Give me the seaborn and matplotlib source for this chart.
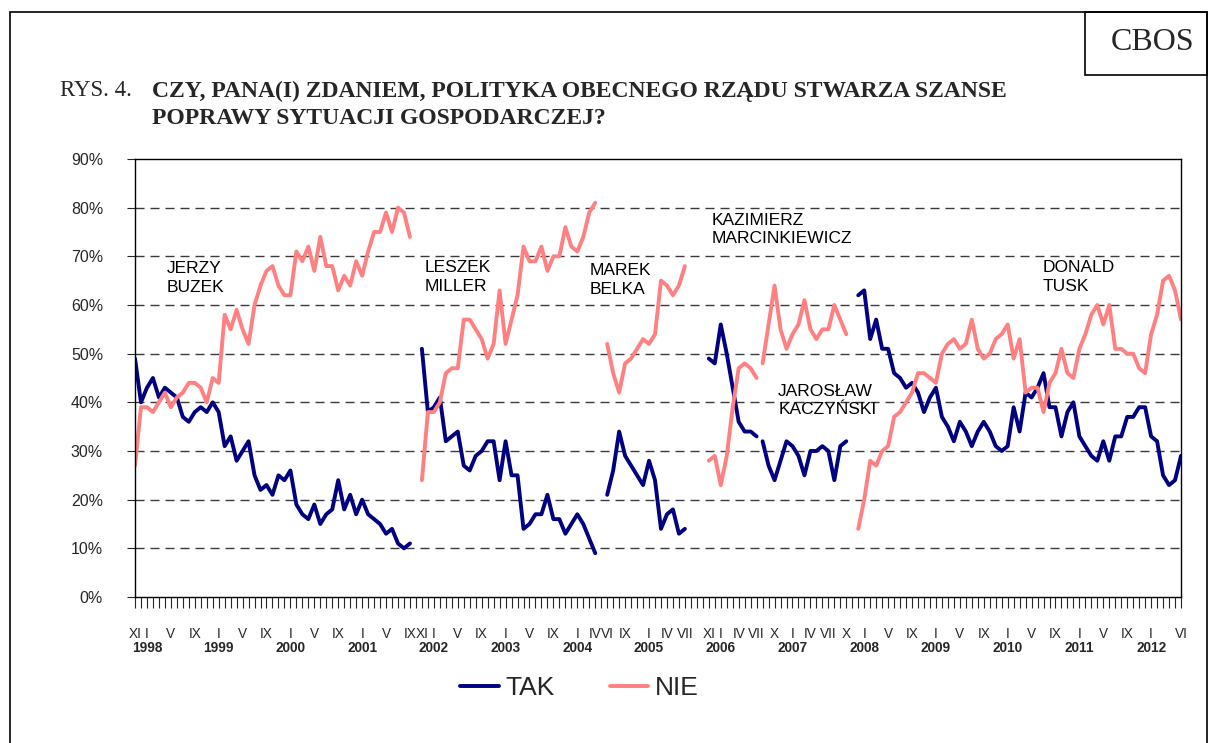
"""
CBOS rys. 4 - ocena polityki rządu (TAK / NIE), XI 1997 - VI 2012
"""
import pandas as pd
import matplotlib
matplotlib.use("Agg")
import matplotlib.pyplot as plt
import matplotlib.transforms as mtransforms
from matplotlib.patches import Rectangle
import seaborn as sns

# miesiące: indeks 0 = XI 1997
ROMAN = ["I", "II", "III", "IV", "V", "VI", "VII", "VIII", "IX", "X", "XI", "XII"]
FIRST_YEAR, FIRST_MONTH = 1997, 11
LAST_YEAR, LAST_MONTH = 2012, 6

# podpisy osi X (tylko wybrane miesiące)
LABELED_MONTHS = {
    1997: ["XI"],
    1998: ["I", "V", "IX"],
    1999: ["I", "V", "IX"],
    2000: ["I", "V", "IX"],
    2001: ["I", "V", "IX", "XI"],
    2002: ["I", "V", "IX"],
    2003: ["I", "V", "IX"],
    2004: ["I", "IV", "VI", "IX"],
    2005: ["I", "IV", "VII", "XI"],
    2006: ["I", "IV", "VII", "X"],
    2007: ["I", "IV", "VII", "X"],
    2008: ["I", "V", "IX"],
    2009: ["I", "V", "IX"],
    2010: ["I", "V", "IX"],
    2011: ["I", "V", "IX"],
    2012: ["I", "VI"],
}

# rządy: początek serii (rok, miesiąc)
GOV_START = {
    "Buzek": (1997, 11),
    "Miller": (2001, 11),
    "Belka": (2004, 6),
    "Marcinkiewicz": (2005, 11),
    "Kaczyński": (2006, 8),
    "Tusk": (2007, 12),
}

TAK_BUZEK = [49, 40, 43, 45, 41, 43, 42, 41, 37, 36, 38, 39, 38, 40, 38, 31,
             33, 28, 30, 32, 25, 22, 23, 21, 25, 24, 26, 19, 17, 16, 19, 15,
             17, 18, 24, 18, 21, 17, 20, 17, 16, 15, 13, 14, 11, 10, 11]
NIE_BUZEK = [27, 39, 39, 38, 40, 42, 39, 41, 42, 44, 44, 43, 40, 45, 44, 58,
             55, 59, 55, 52, 60, 64, 67, 68, 64, 62, 62, 71, 69, 72, 67, 74,
             68, 68, 63, 66, 64, 69, 66, 71, 75, 75, 79, 75, 80, 79, 74]

TAK_MILLER = [51, 38, 39, 41, 32, 33, 34, 27, 26, 29, 30, 32, 32, 24, 32, 25,
              25, 14, 15, 17, 17, 21, 16, 16, 13, 15, 17, 15, 12, 9]
NIE_MILLER = [24, 38, 38, 40, 46, 47, 47, 57, 57, 55, 53, 49, 52, 63, 52, 57,
              62, 72, 69, 69, 72, 67, 70, 70, 76, 72, 71, 74, 79, 81]

TAK_BELKA = [21, 26, 34, 29, 27, 25, 23, 28, 24, 14, 17, 18, 13, 14]
NIE_BELKA = [52, 46, 42, 48, 49, 51, 53, 52, 54, 65, 64, 62, 64, 68]

TAK_MARCINKIEWICZ = [49, 48, 56, 50, 43, 36, 34, 34, 33]
NIE_MARCINKIEWICZ = [28, 29, 23, 29, 39, 47, 48, 47, 45]

TAK_KACZYNSKI = [32, 27, 24, 28, 32, 31, 29, 25, 30, 30, 31, 30, 24, 31, 32]
NIE_KACZYNSKI = [48, 56, 64, 55, 51, 54, 56, 61, 55, 53, 55, 55, 60, 57, 54]

TAK_TUSK = [62, 63, 53, 57, 51, 51, 46, 45, 43, 44, 42, 38, 41, 43, 37, 35,
            32, 36, 34, 31, 34, 36, 34, 31, 30, 31, 39, 34, 42, 41, 43, 46,
            39, 39, 33, 38, 40, 33, 31, 29, 28, 32, 28, 33, 33, 37, 37, 39,
            39, 33, 32, 25, 23, 24, 29]
NIE_TUSK = [14, 20, 28, 27, 30, 31, 37, 38, 40, 42, 46, 46, 45, 44, 50, 52,
            53, 51, 52, 57, 51, 49, 50, 53, 54, 56, 49, 53, 42, 43, 43, 38,
            44, 46, 51, 46, 45, 51, 54, 58, 60, 56, 60, 51, 51, 50, 50, 47,
            46, 54, 58, 65, 66, 63, 57]

SERIES = {
    "Buzek": (TAK_BUZEK, NIE_BUZEK),
    "Miller": (TAK_MILLER, NIE_MILLER),
    "Belka": (TAK_BELKA, NIE_BELKA),
    "Marcinkiewicz": (TAK_MARCINKIEWICZ, NIE_MARCINKIEWICZ),
    "Kaczyński": (TAK_KACZYNSKI, NIE_KACZYNSKI),
    "Tusk": (TAK_TUSK, NIE_TUSK),
}

# podpisy premierów: (tekst, pozycja X w miesiącach od XI 1997, górna krawędź w %)
PM_LABELS = [
    ("JERZY\nBUZEK", 5.3, 69.0),
    ("LESZEK\nMILLER", 48.4, 69.2),
    ("MAREK\nBELKA", 76.0, 68.6),
    ("KAZIMIERZ\nMARCINKIEWICZ", 96.5, 79.0),
    ("JAROSŁAW\nKACZYŃSKI", 107.6, 43.8),
    ("DONALD\nTUSK", 151.9, 69.2),
]

NAVY = "#000080"
PINK = "#FF8080"


def month_index(year, month):
    return (year - FIRST_YEAR) * 12 + (month - FIRST_MONTH)


n_months = month_index(LAST_YEAR, LAST_MONTH) + 1

rows = []
for gov, (tak, nie) in SERIES.items():
    start = month_index(*GOV_START[gov])
    for k, v in enumerate(tak):
        rows.append({"idx": start + k, "value": v, "answer": "TAK", "gov": gov})
    for k, v in enumerate(nie):
        rows.append({"idx": start + k, "value": v, "answer": "NIE", "gov": gov})
df = pd.DataFrame(rows)

sns.set_style("white")
plt.rcParams["font.family"] = ["Liberation Sans", "DejaVu Sans"]

W, H = 1210, 743
fig = plt.figure(figsize=(W / 100, H / 100), dpi=100)

# obszar wykresu w pikselach
L, R, T, B = 135, 1181, 159, 597
ax = fig.add_axes([L / W, 1 - B / H, (R - L) / W, (B - T) / H])

sns.lineplot(data=df, x="idx", y="value", hue="answer", units="gov",
             estimator=None, sort=False, palette={"TAK": NAVY, "NIE": PINK},
             hue_order=["TAK", "NIE"], linewidth=2.8, ax=ax)

ax.set_xlim(0, n_months - 1)
ax.set_ylim(0, 90)
ax.set_xlabel("")
ax.set_ylabel("")

# siatka pozioma
for v in range(10, 90, 10):
    ax.axhline(v, color="#3a3a3a", linewidth=1.0, dashes=(6.5, 4.3), zorder=0)

for s in ax.spines.values():
    s.set_color("black")
    s.set_linewidth(1.0)

ax.set_yticks(range(0, 91, 10))
ax.set_yticklabels([f"{v}%" for v in range(0, 91, 10)], fontsize=11.5)
ax.tick_params(axis="y", direction="out", length=6, width=0.8, pad=17, left=True)

# oś X: znacznik dla każdego miesiąca
xt, xl = [], []
year_pos = []
for i in range(n_months):
    y = FIRST_YEAR + (FIRST_MONTH - 1 + i) // 12
    m = (FIRST_MONTH - 1 + i) % 12 + 1
    xt.append(i)
    xl.append(ROMAN[m - 1] if ROMAN[m - 1] in LABELED_MONTHS.get(y, []) else "")
    if m == 1:
        year_pos.append((i, y))
ax.set_xticks(xt)
ax.set_xticklabels(xl, fontsize=9.8)
ax.tick_params(axis="x", direction="out", length=8, width=0.8, pad=13.5, bottom=True)

trans = mtransforms.blended_transform_factory(ax.transData, ax.transAxes)
for i, y in year_pos:
    ax.text(i, -0.1164, str(y), transform=trans, ha="center", va="center",
            fontsize=9.8, fontweight="bold")

for text, x, top in PM_LABELS:
    ax.text(x, top, text, ha="left", va="top", fontsize=12.5,
            linespacing=1.3, color="black")

sns.move_legend(ax, loc="center", bbox_to_anchor=(0.425, -0.208), ncol=2,
                frameon=False, title=None, fontsize=19, handlelength=1.45,
                columnspacing=2.1, handletextpad=0.25)
for line in ax.get_legend().get_lines():
    line.set_linewidth(2.8)

# ramka, nagłówek
fig.add_artist(Rectangle((10 / W, -0.01), (1207 - 10) / W, 1 - 12 / H + 0.01,
                         transform=fig.transFigure, fill=False,
                         edgecolor="black", linewidth=1.2))
fig.add_artist(Rectangle((1085 / W, 1 - 75 / H), (1207 - 1085) / W, 63 / H,
                         transform=fig.transFigure, fill=False,
                         edgecolor="black", linewidth=1.2))
fig.text(1153 / W, 1 - 42 / H, "CBOS", ha="center", va="center",
         fontsize=23, family="Liberation Serif")

fig.text(60 / W, 1 - 91 / H, "RYS. 4.", ha="left", va="center",
         fontsize=16.5, family="Liberation Serif")
fig.text(152 / W, 1 - 91 / H, "CZY, PANA(I) ZDANIEM, POLITYKA OBECNEGO RZĄDU STWARZA SZANSE",
         ha="left", va="center", fontsize=17, fontweight="bold",
         family="Liberation Serif")
fig.text(152 / W, 1 - 119 / H, "POPRAWY SYTUACJI GOSPODARCZEJ?",
         ha="left", va="center", fontsize=17, fontweight="bold",
         family="Liberation Serif")

fig.savefig("out.png", dpi=100)
